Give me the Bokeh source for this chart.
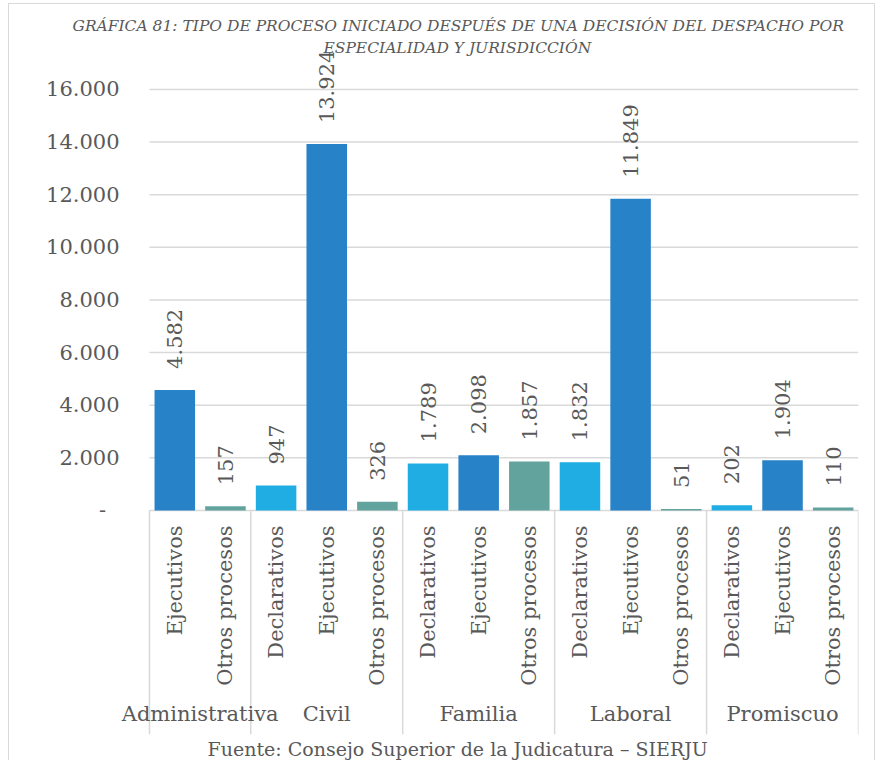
import math
from bokeh.plotting import figure
from bokeh.layouts import column, row
from bokeh.models import Range1d, FixedTicker, Title, ColumnDataSource, Spacer
from bokeh.embed import file_html
from bokeh.resources import INLINE
from bokeh.core.properties import value

# ---------------- data ----------------
groups = ["Administrativa", "Civil", "Familia", "Laboral", "Promiscuo"]
group_types = [
    ["Ejecutivos", "Otros procesos"],
    ["Declarativos", "Ejecutivos", "Otros procesos"],
    ["Declarativos", "Ejecutivos", "Otros procesos"],
    ["Declarativos", "Ejecutivos", "Otros procesos"],
    ["Declarativos", "Ejecutivos", "Otros procesos"],
]
group_values = [
    [4582, 157],
    [947, 13924, 326],
    [1789, 2098, 1857],
    [1832, 11849, 51],
    [202, 1904, 110],
]
type_colors = {
    "Declarativos": "#1FADE3",
    "Ejecutivos": "#2882C7",
    "Otros procesos": "#62A39E",
}
y_ticks = [0, 2000, 4000, 6000, 8000, 10000, 12000, 14000, 16000]
title_line1 = "GRÁFICA 81: TIPO DE PROCESO INICIADO DESPUÉS DE UNA DECISIÓN DEL DESPACHO POR"
title_line2 = "ESPECIALIDAD Y JURISDICCIÓN"
source_text = "Fuente: Consejo Superior de la Judicatura – SIERJU"

FONT = "DejaVu Serif"
TXT = "#595959"
GRID = "#d9d9d9"
FS = "21px"


def fmt(v):
    return "-\u00a0\u00a0" if v == 0 else f"{v:,}".replace(",", ".")


# positions of the categories on a linear scale (one unit per category)
xs, tops, colors, labels, subs = [], [], [], [], []
i = 0
for g, ts, vs in zip(groups, group_types, group_values):
    for t, v in zip(ts, vs):
        xs.append(i + 0.5)
        tops.append(v)
        colors.append(type_colors[t])
        labels.append(fmt(v))
        subs.append(t)
        i += 1
n_cat = i
src = ColumnDataSource(dict(x=xs, top=tops, color=colors, label=labels, sub=subs))

bounds = [0]
for ts in group_types:
    bounds.append(bounds[-1] + len(ts))
centres = [(a + b) / 2 for a, b in zip(bounds[:-1], bounds[1:])]

W, H = 867, 757
y_min, y_max = -8516, 17406

p = figure(
    x_range=Range1d(-0.592, n_cat),
    y_range=Range1d(y_min, y_max),
    width=W, height=H,
    output_backend="svg", toolbar_location=None,
    x_axis_location=None,
    min_border_left=110, min_border_right=18,
    min_border_top=48, min_border_bottom=27,
    outline_line_color=None,
    background_fill_color="white", border_fill_color="white",
)
p.styles = {"border-left": "1px solid #d9d9d9", "border-top": "1px solid #d9d9d9",
            "border-right": "1px solid #d9d9d9"}

p.xgrid.visible = False
p.ygrid.visible = False

# y axis (labels only)
ax = p.yaxis[0]
ax.ticker = FixedTicker(ticks=y_ticks)
ax.major_label_overrides = {t: fmt(t) for t in y_ticks}
ax.axis_line_color = None
ax.major_tick_line_color = None
ax.minor_tick_line_color = None
ax.major_tick_out = 0
ax.major_tick_in = 0
ax.major_label_standoff = 0
ax.major_label_text_font = FONT
ax.major_label_text_font_size = FS
ax.major_label_text_color = TXT

# horizontal grid lines over the category span (the one at 0 is the baseline)
p.segment(x0=[0] * len(y_ticks), y0=y_ticks, x1=[n_cat] * len(y_ticks), y1=y_ticks,
          line_color=GRID, line_width=1.5)

# group separators down through the label area
p.segment(x0=bounds, y0=[0] * len(bounds), x1=bounds, y1=[y_min] * len(bounds),
          line_color=GRID, line_width=1.5)

# bars
p.vbar(x="x", top="top", width=0.8, color="color", line_color=None, source=src)

# value labels
p.text(x="x", y="top", text="label", source=src, angle=math.pi / 2,
       text_align="left", text_baseline="middle", y_offset=-21,
       text_font=value(FONT), text_font_size=FS, text_color=TXT)

# category labels (rotated)
p.text(x="x", y=0, text="sub", source=src, angle=math.pi / 2,
       text_align="right", text_baseline="middle", y_offset=15,
       text_font=value(FONT), text_font_size=FS, text_color=TXT)

# group labels
p.text(x=centres, y=[0] * len(groups), text=groups,
       text_align="center", text_baseline="middle", y_offset=204,
       text_font=value(FONT), text_font_size=FS, text_color=TXT)

# titles
t2 = Title(text=title_line2, align="left", offset=204, text_font=FONT,
           text_font_size="15.5px", text_font_style="italic", text_color=TXT,
           standoff=-8)
t1 = Title(text=title_line1, align="left", offset=-47, text_font=FONT,
           text_font_size="15.5px", text_font_style="italic", text_color=TXT,
           standoff=11)
p.add_layout(t2, "above")
p.add_layout(t1, "above")

foot = Title(text=source_text, align="left", offset=88, text_font=FONT,
             text_font_size="19px", text_font_style="normal", text_color=TXT,
             standoff=2)
p.add_layout(foot, "below")

layout = column(Spacer(height=3), row(Spacer(width=8), p))
open("out.html", "w").write(file_html(layout, INLINE))
